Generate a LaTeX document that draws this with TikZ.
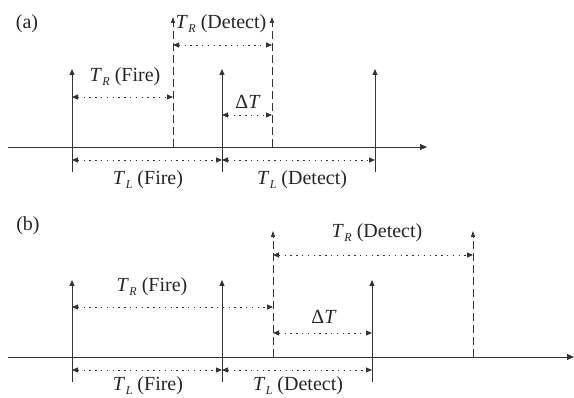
\documentclass[tikz,border=0pt]{standalone}
\usepackage{fontspec}
\setmainfont{Liberation Serif}
\usetikzlibrary{arrows.meta}
\newcommand{\Tsub}[1]{\textit{T}\kern0.5pt\raisebox{-0.35ex}{\fontsize{12}{12}\selectfont\textit{#1}}}
\begin{document}
\begin{tikzpicture}[x=1pt,y=-1pt,
  ln/.style={line width=0.9pt,draw=black!80},
  axis/.style={ln,-{Triangle[length=7pt,width=6pt]}},
  pulse/.style={ln,-{Triangle[length=6pt,width=5pt]}},
  dpulse/.style={ln,dash pattern=on 8pt off 4pt,-{Triangle[length=6pt,width=4pt]}},
  dim/.style={line width=0.9pt,draw=black!80,dash pattern=on 1.4pt off 4.4pt,{Triangle[length=6pt,width=5pt]}-{Triangle[length=6pt,width=5pt]}},
  lab/.style={font=\fontsize{20}{20}\selectfont,inner sep=0pt,text=black!85}]
\useasboundingbox (0,0) rectangle (574,398);
% ---------- panel (a)
\node[lab] (la) at (27,24) {(a)};
\coordinate (a0) at (8,147);
\coordinate (a1) at (427,147);
\draw[axis] (a0) -- (a1);
\coordinate (aS1b) at (72,172); \coordinate (aS1t) at (72,69);
\coordinate (aS2b) at (222,172); \coordinate (aS2t) at (222,69);
\coordinate (aS3b) at (375,172); \coordinate (aS3t) at (375,69);
\draw[pulse] (aS1b) -- (aS1t);
\draw[pulse] (aS2b) -- (aS2t);
\draw[pulse] (aS3b) -- (aS3t);
\coordinate (aD1b) at (173,147); \coordinate (aD1t) at (173,17);
\coordinate (aD2b) at (272,147); \coordinate (aD2t) at (272,17);
\draw[dpulse] (aD1b) -- (aD1t);
\draw[dpulse] (aD2b) -- (aD2t);
\coordinate (aRF1) at (72,97); \coordinate (aRF2) at (173,97);
\draw[dim] (aRF1) -- (aRF2);
\coordinate (aRD1) at (173,45); \coordinate (aRD2) at (272,45);
\draw[dim] (aRD1) -- (aRD2);
\coordinate (aDT1) at (222,115); \coordinate (aDT2) at (272,115);
\draw[dim] (aDT1) -- (aDT2);
\coordinate (aLF1) at (72,160); \coordinate (aLF2) at (222,160);
\draw[dim] (aLF1) -- (aLF2);
\coordinate (aLD1) at (222,160); \coordinate (aLD2) at (375,160);
\draw[dim] (aLD1) -- (aLD2);
\node[lab] (tRFa) at (125,77) {\Tsub{R} (Fire)};
\node[lab] (tRDa) at (221,24) {\Tsub{R} (Detect)};
\node[lab] (tDTa) at (248,102) {Δ\textit{T}};
\node[lab] (tLFa) at (148,180) {\Tsub{L} (Fire)};
\node[lab] (tLDa) at (302,180) {\Tsub{L} (Detect)};
% ---------- panel (b)
\node[lab] (lb) at (28,226) {(b)};
\coordinate (b0) at (8,357);
\coordinate (b1) at (574,357);
\draw[axis] (b0) -- (b1);
\coordinate (bS1b) at (72,382); \coordinate (bS1t) at (72,280);
\coordinate (bS2b) at (222,382); \coordinate (bS2t) at (222,280);
\coordinate (bS3b) at (372,382); \coordinate (bS3t) at (372,280);
\draw[pulse] (bS1b) -- (bS1t);
\draw[pulse] (bS2b) -- (bS2t);
\draw[pulse] (bS3b) -- (bS3t);
\coordinate (bD1b) at (273,357); \coordinate (bD1t) at (273,231);
\coordinate (bD2b) at (473,357); \coordinate (bD2t) at (473,231);
\draw[dpulse] (bD1b) -- (bD1t);
\draw[dpulse] (bD2b) -- (bD2t);
\coordinate (bRF1) at (72,307); \coordinate (bRF2) at (273,307);
\draw[dim] (bRF1) -- (bRF2);
\coordinate (bRD1) at (273,255); \coordinate (bRD2) at (473,255);
\draw[dim] (bRD1) -- (bRD2);
\coordinate (bDT1) at (273,333); \coordinate (bDT2) at (372,333);
\draw[dim] (bDT1) -- (bDT2);
\coordinate (bLF1) at (72,370); \coordinate (bLF2) at (222,370);
\draw[dim] (bLF1) -- (bLF2);
\coordinate (bLD1) at (222,370); \coordinate (bLD2) at (372,370);
\draw[dim] (bLD1) -- (bLD2);
\node[lab] (tRFb) at (152,287) {\Tsub{R} (Fire)};
\node[lab] (tRDb) at (377,233) {\Tsub{R} (Detect)};
\node[lab] (tDTb) at (324,317) {Δ\textit{T}};
\node[lab] (tLFb) at (148,386) {\Tsub{L} (Fire)};
\node[lab] (tLDb) at (298,386) {\Tsub{L} (Detect)};
\end{tikzpicture}
\end{document}
